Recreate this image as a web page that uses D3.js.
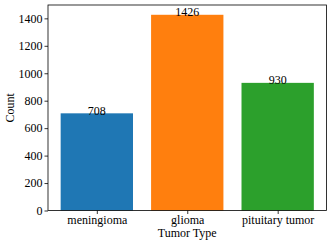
<!DOCTYPE html>
<html>
<head>
<meta charset="utf-8">
<script src="https://cdn.jsdelivr.net/npm/d3@7"></script>
<style>
  body { margin: 0; background: #fff; }
  svg text { font-family: "Liberation Serif", "DejaVu Serif", serif; fill: #000; }
</style>
</head>
<body>
<div id="chart"></div>
<script>
// chart data
const categories = ['meningioma', 'glioma', 'pituitary tumor'];
const counts = [708, 1426, 930];
const barColors = ['#1f77b4', '#ff7f0e', '#2ca02c'];
const yTicks = [0, 200, 400, 600, 800, 1000, 1200, 1400];

const width = 332;
const height = 246;
const margin = { top: 5, right: 5.5, bottom: 35.5, left: 48 };

const svg = d3.select('#chart')
    .append('svg')
    .attr('width', width)
    .attr('height', height);

// x scale in "bar index" units, like matplotlib (bar width 0.8, 5% margins)
const x = d3.scaleLinear()
    .domain([-0.54, 2.54])
    .range([margin.left, width - margin.right]);

const yMax = d3.max(counts) * 1.05;
const y = d3.scaleLinear()
    .domain([0, yMax])
    .range([height - margin.bottom, margin.top]);

// bars
svg.selectAll('.bar')
    .data(counts)
    .enter()
    .append('rect')
    .attr('class', 'bar')
    .attr('x', (d, i) => x(i - 0.4))
    .attr('width', (d, i) => x(i + 0.4) - x(i - 0.4))
    .attr('y', d => y(d))
    .attr('height', d => y(0) - y(d))
    .style('fill', (d, i) => barColors[i]);

// value labels
svg.selectAll('.value')
    .data(counts)
    .enter()
    .append('text')
    .attr('class', 'value')
    .attr('x', (d, i) => x(i))
    .attr('y', d => y(d) + 1.5)
    .attr('text-anchor', 'middle')
    .style('font-size', '12px')
    .text(d => d);

// axes
svg.append('g')
    .attr('class', 'x-axis')
    .attr('transform', `translate(0,${height - margin.bottom})`)
    .call(d3.axisBottom(x).tickValues(d3.range(categories.length)).tickFormat(i => categories[i]).tickSizeOuter(0).tickSize(3.5).tickPadding(1.5));

svg.append('g')
    .attr('class', 'y-axis')
    .attr('transform', `translate(${margin.left},0)`)
    .call(d3.axisLeft(y).tickValues(yTicks).tickFormat(d3.format('d')).tickSizeOuter(0).tickSize(3.5).tickPadding(2));

svg.selectAll('.tick text').style('font-size', '12px');
svg.selectAll('.domain').remove();
svg.selectAll('.tick line').style('stroke', '#000').style('stroke-width', 0.8);

// frame (spines)
svg.append('rect')
    .attr('x', margin.left)
    .attr('y', margin.top)
    .attr('width', width - margin.right - margin.left)
    .attr('height', height - margin.bottom - margin.top)
    .style('fill', 'none')
    .style('stroke', '#000')
    .style('stroke-width', 0.8);

// axis titles
svg.append('text')
    .attr('x', x(1))
    .attr('y', 237)
    .attr('text-anchor', 'middle')
    .style('font-size', '12px')
    .text('Tumor Type');

svg.append('text')
    .attr('transform', `translate(14,${(margin.top + height - margin.bottom) / 2}) rotate(-90)`)
    .attr('text-anchor', 'middle')
    .style('font-size', '12px')
    .text('Count');
</script>
</body>
</html>
